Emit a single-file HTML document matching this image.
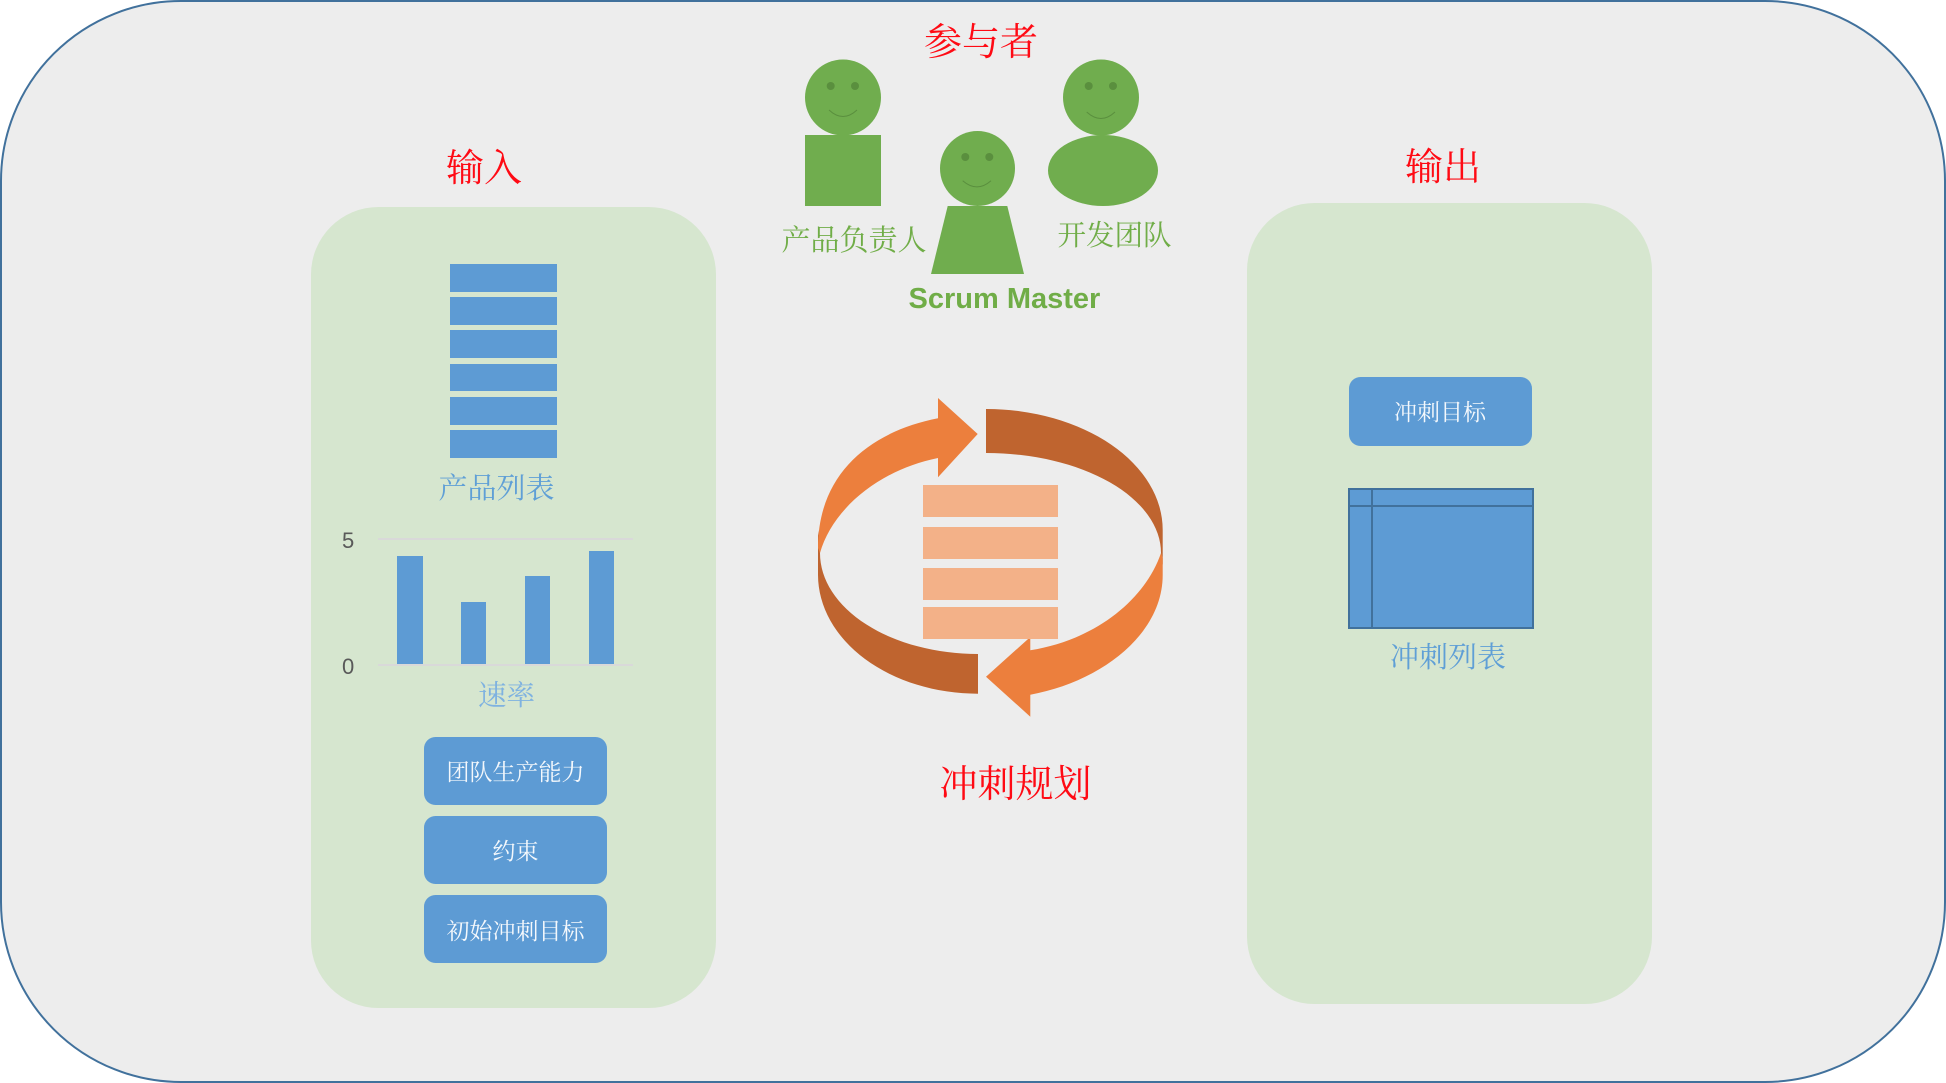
<!DOCTYPE html>
<html><head><meta charset="utf-8"><title>冲刺规划</title>
<style>
html,body{margin:0;padding:0;background:#fff;width:1946px;height:1083px;overflow:hidden}
svg{display:block}
.cjk{font-family:"Liberation Serif","Noto Serif CJK SC",serif}
.red{fill:#ff0a14;font-size:38px}
.g{fill:#70ad47}
.lb{fill:#5f9fd6;font-size:29px}
.w{fill:#f4f8fc;font-size:23px}
</style></head><body>
<svg width="1946" height="1083" viewBox="0 0 1946 1083" xmlns="http://www.w3.org/2000/svg">
<rect x="1" y="1" width="1944" height="1081" rx="180" ry="180" fill="#ededed" stroke="#41719c" stroke-width="2"/>
<rect x="311" y="207" width="405" height="801" rx="67.5" fill="#d6e6cf"/>
<rect x="1247" y="203" width="405" height="801" rx="67.5" fill="#d6e6cf"/>

<g class="g">
<circle cx="843" cy="97.5" r="38" fill="#70ad4e"/>
<rect x="805" y="135" width="76" height="71" fill="#70ad4e"/>
<circle cx="977.5" cy="168.5" r="37.5" fill="#70ad4e"/>
<path d="M947.7 206H1007.3L1024 274H931Z" fill="#70ad4e"/>
<circle cx="1101" cy="97.5" r="38" fill="#70ad4e"/>
<ellipse cx="1103" cy="170.5" rx="55" ry="35.5" fill="#70ad4e"/>
</g>
<g fill="#5a8f3e">
<circle cx="830.7" cy="86" r="4"/><circle cx="855" cy="86" r="4"/>
<circle cx="965.3" cy="157" r="4"/><circle cx="989.3" cy="157" r="4"/>
<circle cx="1088.7" cy="86" r="4"/><circle cx="1113" cy="86" r="4"/>
</g>
<g fill="none" stroke="#5a8f3e" stroke-width="1">
<path d="M829 110Q843 123 857 110"/>
<path d="M962.7 180.7Q977 193 991 180.7"/>
<path d="M1086.7 112Q1101 125 1115 112"/>
</g>

<path d="M986 409A177 121 0 0 1 1162.7 530V565L1161 553A175 100 0 0 0 986 453Z" fill="#bf642f"/>
<path d="M978 693.7A160 119 0 0 1 818 575V530L820 553A158 101 0 0 0 978 654Z" fill="#bf642f"/>
<path d="M820 553C832 510 878 470 938 458V477.3L977.7 434L938 398V418.3C868 432 818 475 818 548Z" fill="#ec7f3d"/>
<path d="M1161 553C1145 600 1095 640 1030.3 650.3V637L986 676.7L1030.3 716.7V694.7C1100 682 1162.7 635 1162.7 575V558Z" fill="#ec7f3d"/>
<g fill="#f3b188">
<rect x="923" y="485" width="135" height="32"/>
<rect x="923" y="527" width="135" height="32"/>
<rect x="923" y="568" width="135" height="32"/>
<rect x="923" y="607" width="135" height="32"/>
</g>

<g fill="#5d9bd4">
<rect x="450" y="264" width="107" height="28"/>
<rect x="450" y="297" width="107" height="28"/>
<rect x="450" y="330" width="107" height="28"/>
<rect x="450" y="364" width="107" height="27"/>
<rect x="450" y="397" width="107" height="28"/>
<rect x="450" y="430" width="107" height="28"/>
<rect x="397" y="556" width="26" height="108"/>
<rect x="461" y="602" width="25" height="62"/>
<rect x="525" y="576" width="25" height="88"/>
<rect x="589" y="551" width="25" height="113"/>
<rect x="424" y="737" width="183" height="68" rx="11.5"/>
<rect x="424" y="816" width="183" height="68" rx="11.5"/>
<rect x="424" y="895" width="183" height="68" rx="11.5"/>
<rect x="1349" y="377" width="183" height="69" rx="11.5"/>
</g>
<rect x="378" y="538" width="255" height="2" fill="#d9d9d9"/>
<rect x="378" y="664" width="255" height="2" fill="#d9d9d9"/>
<text x="342" y="548" font-family="Liberation Sans,sans-serif" font-size="22" fill="#595959">5</text>
<text x="342" y="674" font-family="Liberation Sans,sans-serif" font-size="22" fill="#595959">0</text>

<rect x="1349" y="489" width="184" height="139" fill="#5d9bd4" stroke="#41719c" stroke-width="2"/>
<path d="M1372 489V628M1349 506H1533" stroke="#41719c" stroke-width="2" fill="none"/>

<g class="cjk">
<text class="red" x="924" y="55">参与者</text>
<text class="red" x="446" y="181">输入</text>
<text class="red" x="1405" y="180">输出</text>
<text class="red" x="939.5" y="797">冲刺规划</text>
<text class="g" x="781.5" y="250" font-size="29">产品负责人</text>
<text class="g" x="1057.5" y="245" font-size="28.5">开发团队</text>
<text class="lb" x="438.5" y="498">产品列表</text>
<text x="478" y="705" font-size="28.5" fill="#7fb2e0">速率</text>
<text class="lb" x="1390" y="667">冲刺列表</text>
<text class="w" x="446.5" y="780">团队生产能力</text>
<text class="w" x="492.5" y="859">约束</text>
<text class="w" x="446.5" y="939" >初始冲刺目标</text>
<text class="w" x="1394" y="420">冲刺目标</text>
</g>
<text x="908.5" y="308" font-family="Liberation Sans,sans-serif" font-weight="bold" font-size="29" fill="#70ad47">Scrum Master</text>
</svg>
</body></html>
